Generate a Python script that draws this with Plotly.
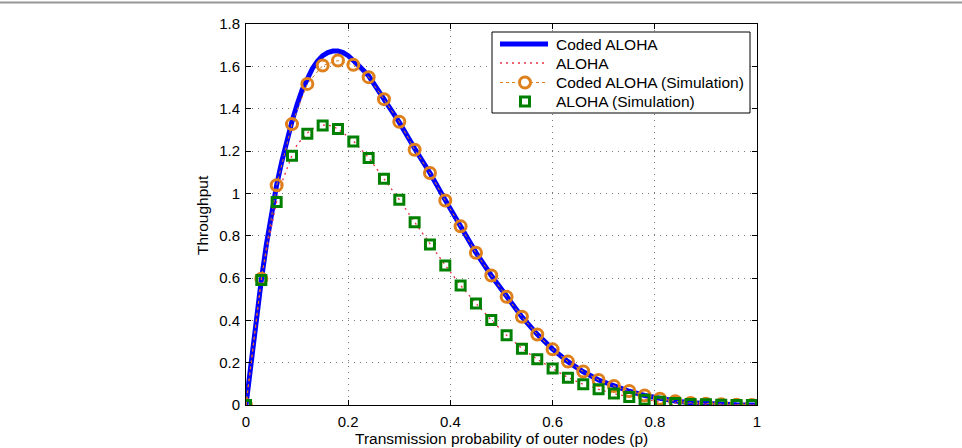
import plotly.graph_objects as go

# ---- data ----
p_coded = [0, 0.01, 0.02, 0.03, 0.04, 0.05, 0.06, 0.07, 0.08, 0.09, 0.10, 0.11, 0.12,
           0.13, 0.14, 0.15, 0.16, 0.17, 0.18, 0.19, 0.20, 0.21, 0.22, 0.23, 0.24,
           0.27, 0.30, 0.33, 0.36, 0.39, 0.42, 0.45, 0.48, 0.51, 0.54, 0.57, 0.60,
           0.63, 0.66, 0.69, 0.72, 0.75, 0.78, 0.81, 0.84, 0.87, 0.90, 0.93, 0.96, 1.0]
thr_coded = [0, 0.21, 0.41, 0.59, 0.76, 0.91, 1.04, 1.15, 1.25, 1.34, 1.42, 1.49, 1.54,
             1.59, 1.625, 1.65, 1.665, 1.672, 1.672, 1.665, 1.65, 1.63, 1.605, 1.58, 1.555,
             1.445, 1.335, 1.212, 1.096, 0.968, 0.845, 0.72, 0.612, 0.511, 0.416, 0.334, 0.264,
             0.205, 0.157, 0.118, 0.089, 0.065, 0.045, 0.03, 0.019, 0.011, 0.006, 0.003, 0.001, 0]

p_aloha = [0, 0.01, 0.02, 0.03, 0.04, 0.05, 0.06, 0.07, 0.08, 0.09, 0.10, 0.11, 0.12,
           0.13, 0.14, 0.15, 0.16, 0.17, 0.18, 0.21, 0.24, 0.27, 0.30, 0.33, 0.36, 0.39,
           0.42, 0.45, 0.48, 0.51, 0.54, 0.57, 0.60, 0.63, 0.66, 0.69, 0.72, 0.75, 0.78,
           0.81, 0.84, 0.87, 0.90, 0.93, 0.96, 1.0]
thr_aloha = [0, 0.2, 0.4, 0.59, 0.73, 0.85, 0.96, 1.05, 1.12, 1.18, 1.23, 1.26, 1.285,
             1.305, 1.318, 1.323, 1.322, 1.316, 1.304, 1.248, 1.168, 1.069, 0.97, 0.864, 0.759,
             0.66, 0.565, 0.48, 0.401, 0.33, 0.267, 0.216, 0.172, 0.13, 0.098, 0.074, 0.054,
             0.038, 0.026, 0.016, 0.01, 0.006, 0.003, 0.001, 0, 0]

p_sim = [0, 0.03, 0.06, 0.09, 0.12, 0.15, 0.18, 0.21, 0.24, 0.27, 0.30, 0.33, 0.36,
         0.39, 0.42, 0.45, 0.48, 0.51, 0.54, 0.57, 0.60, 0.63, 0.66, 0.69, 0.72, 0.75,
         0.78, 0.81, 0.84, 0.87, 0.90, 0.93, 0.96, 0.99]
thr_coded_sim = [0, 0.597, 1.038, 1.327, 1.517, 1.604, 1.627, 1.607, 1.549, 1.445, 1.338,
                 1.206, 1.096, 0.966, 0.844, 0.719, 0.612, 0.511, 0.417, 0.333, 0.263,
                 0.205, 0.158, 0.118, 0.09, 0.066, 0.045, 0.03, 0.018, 0.01, 0.006,
                 0.003, 0.001, 0]
thr_aloha_sim = [0, 0.59, 0.959, 1.178, 1.282, 1.321, 1.304, 1.245, 1.167, 1.069, 0.97,
                 0.863, 0.758, 0.659, 0.565, 0.48, 0.401, 0.33, 0.266, 0.216, 0.173,
                 0.129, 0.098, 0.074, 0.054, 0.038, 0.025, 0.015, 0.009, 0.005, 0.003,
                 0.001, 0, 0]

series_names = ["Coded ALOHA", "ALOHA", "Coded ALOHA (Simulation)", "ALOHA (Simulation)"]

x_ticks = [0, 0.2, 0.4, 0.6, 0.8, 1.0]
x_tick_labels = ["0", "0.2", "0.4", "0.6", "0.8", "1"]
y_ticks = [0, 0.2, 0.4, 0.6, 0.8, 1.0, 1.2, 1.4, 1.6, 1.8]
y_tick_labels = ["0", "0.2", "0.4", "0.6", "0.8", "1", "1.2", "1.4", "1.6", "1.8"]

FONT = "Liberation Sans, Arial, Helvetica, sans-serif"
BLUE = "rgb(0,0,255)"
RED = "rgb(232,50,70)"
ORANGE = "rgb(222,128,28)"
GREEN = "rgb(0,128,0)"

W, H = 962, 448
ML, MR, MT, MB = 246, 205, 24, 43
PW, PH = W - ML - MR, H - MT - MB


def px(x):
    return (x - ML) / PW


def py(y):
    return (H - MB - y) / PH


fig = go.Figure()
fig.add_trace(go.Scatter(x=p_coded, y=thr_coded, mode="lines", name=series_names[0],
                         line=dict(color=BLUE, width=5)))
fig.add_trace(go.Scatter(x=p_aloha, y=thr_aloha, mode="lines", name=series_names[1],
                         line=dict(color=RED, width=1.3, dash="2px,4px")))
fig.add_trace(go.Scatter(x=p_sim, y=thr_coded_sim, mode="lines+markers",
                         name=series_names[2],
                         line=dict(color=ORANGE, width=1, dash="dot"),
                         marker=dict(symbol="circle-open", size=11, color=ORANGE,
                                     line=dict(color=ORANGE, width=3))))
fig.add_trace(go.Scatter(x=p_sim, y=thr_aloha_sim, mode="markers",
                         name=series_names[3],
                         marker=dict(symbol="square-open", size=9, color=GREEN,
                                     line=dict(color=GREEN, width=3))))

axis_common = dict(
    showline=True, linecolor="black", linewidth=1, mirror="ticks",
    ticks="inside", ticklen=5, tickcolor="black", tickwidth=1,
    showgrid=True, gridcolor="rgb(120,120,120)", gridwidth=1, griddash="1px,5px",
    zeroline=False, automargin=False,
    tickfont=dict(family=FONT, size=15, color="black"),
)

fig.update_xaxes(range=[0, 1], tickvals=x_ticks, ticktext=x_tick_labels,
                 ticklabelstandoff=3, **axis_common)
fig.update_yaxes(range=[0, 1.8], tickvals=y_ticks, ticktext=y_tick_labels,
                 ticklabelstandoff=2, **axis_common)

# ---- legend box drawn by hand (MATLAB-like compact legend) ----
LX0, LX1, LY0, LY1 = 492, 750, 32, 113
rows = [44, 63, 82.5, 101.5]
SX0, SX1, SXC, TX = 500, 548, 525, 554

shapes = [
    # thin gray rule along the top of the figure
    dict(type="line", xref="paper", yref="paper", x0=px(0), x1=px(W),
         y0=py(2.5), y1=py(2.5), line=dict(color="rgb(150,150,150)", width=2)),
    dict(type="rect", xref="paper", yref="paper", x0=px(LX0), x1=px(LX1),
         y0=py(LY1), y1=py(LY0), fillcolor="white",
         line=dict(color="black", width=1), layer="above"),
    dict(type="line", xref="paper", yref="paper", x0=px(SX0), x1=px(SX1),
         y0=py(rows[0]), y1=py(rows[0]), line=dict(color=BLUE, width=5), layer="above"),
    dict(type="line", xref="paper", yref="paper", x0=px(SX0), x1=px(SX1),
         y0=py(rows[1]), y1=py(rows[1]), line=dict(color=RED, width=1.5, dash="2px,4px"),
         layer="above"),
    dict(type="line", xref="paper", yref="paper", x0=px(SX0), x1=px(SX1),
         y0=py(rows[2]), y1=py(rows[2]), line=dict(color=ORANGE, width=1, dash="dot"),
         layer="above"),
    dict(type="circle", xref="paper", yref="paper", xsizemode="pixel", ysizemode="pixel",
         xanchor=px(SXC), yanchor=py(rows[2]), x0=-5.5, x1=5.5, y0=-5.5, y1=5.5,
         fillcolor="white", line=dict(color=ORANGE, width=3), layer="above"),
    dict(type="rect", xref="paper", yref="paper", xsizemode="pixel", ysizemode="pixel",
         xanchor=px(SXC), yanchor=py(rows[3]), x0=-4.5, x1=4.5, y0=-4.5, y1=4.5,
         fillcolor="white", line=dict(color=GREEN, width=3), layer="above"),
]

annotations = [
    dict(xref="paper", yref="paper", x=px(TX), y=py(r), xanchor="left", yanchor="middle",
         text=name, showarrow=False, font=dict(family=FONT, size=15.5, color="black"))
    for name, r in zip(series_names, rows)
]
# axis titles
annotations.append(dict(xref="paper", yref="paper", x=0.5, y=py(438),
                        xanchor="center", yanchor="middle", showarrow=False,
                        text="Transmission probability of outer nodes (p)",
                        font=dict(family=FONT, size=15.5, color="black")))
annotations.append(dict(xref="paper", yref="paper", x=px(203), y=py(215),
                        xanchor="center", yanchor="middle", showarrow=False,
                        text="Throughput", textangle=-90,
                        font=dict(family=FONT, size=15.5, color="black")))

fig.update_layout(
    width=W, height=H,
    margin=dict(l=ML, r=MR, t=MT, b=MB),
    paper_bgcolor="white", plot_bgcolor="white",
    font=dict(family=FONT, size=15, color="black"),
    showlegend=False,
    shapes=shapes,
    annotations=annotations,
)

fig.write_html("out.html")
